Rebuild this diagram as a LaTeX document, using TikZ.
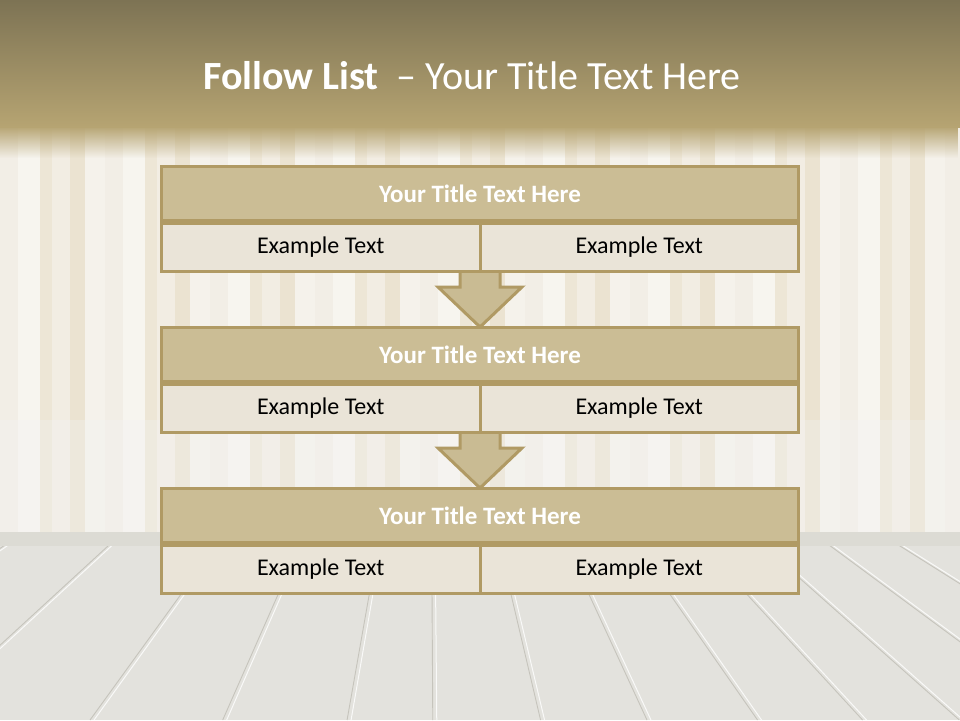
\documentclass[tikz,border=0pt]{standalone}
\usepackage{fontspec}
\setmainfont{Carlito}
\usetikzlibrary{fadings,calc}
\definecolor{gold}{HTML}{B09A64}
\definecolor{titlefill}{HTML}{CBBD95}
\definecolor{cellfill}{HTML}{EAE4D8}
\definecolor{arrowfill}{HTML}{C9BB93}
\definecolor{wallbase}{HTML}{F2EEE4}
\definecolor{bandtop}{HTML}{7D7354}
\definecolor{bandbot}{HTML}{B6A472}
\definecolor{floorc}{HTML}{E3E2DD}
\definecolor{groove}{HTML}{C6C4BC}
\definecolor{basebd}{HTML}{DCDBD4}
\definecolor{sA}{HTML}{F2EEE6}
\definecolor{sB}{HTML}{F7F5EF}
\definecolor{sC}{HTML}{EDE6D6}
\definecolor{sD}{HTML}{F2EDE3}
\definecolor{sE}{HTML}{EBE3D1}
\definecolor{sF}{HTML}{F5F2EB}
\tikzset{
  boxtitle/.style={draw=gold, line width=3pt, fill=titlefill, minimum width=637pt, minimum height=54pt, inner sep=0pt, text=white, font=\fontsize{25}{30}\selectfont\bfseries},
  boxcell/.style={draw=gold, line width=3pt, fill=cellfill, minimum width=318.5pt, minimum height=48pt, inner sep=0pt, text=black, font=\fontsize{24}{29}\selectfont},
  flowarrow/.style={draw=gold, line width=3pt, fill=arrowfill, line join=miter},
  mainttl/.style={text=white, inner sep=0pt, font=\fontsize{40}{48}\selectfont}
}
\begin{document}
\begin{tikzpicture}[x=1pt,y=-1pt]
\useasboundingbox (0,0) rectangle (960,720);
% ---------- background ----------
\fill[wallbase] (0,0) rectangle (960,720);
\foreach \p in {0,105,...,945}{
  \fill[sA] (\p,120) rectangle ++(18,420);
  \fill[sB] (\p+18,120) rectangle ++(22,420);
  \fill[sC] (\p+40,120) rectangle ++(12,420);
  \fill[sD] (\p+52,120) rectangle ++(18,420);
  \fill[sE] (\p+70,120) rectangle ++(15,420);
  \fill[sF] (\p+85,120) rectangle ++(20,420);
}
% soften lower wall
\fill[white!90!gray, opacity=0.35] (0,420) rectangle (960,533);
% baseboard
\fill[basebd] (0,532) rectangle (960,546);
% floor
\fill[floorc] (0,546) rectangle (960,720);
\begin{scope}
  \clip (0,546) rectangle (960,720);
  \coordinate (vp) at (430,250);
  \foreach \xa in {-200,-60,60,184,280,370,432,510,587,667,743,813,890,970,1060}{
    \pgfmathsetmacro{\xe}{430+(\xa-430)*1.382}
    \draw[groove, line width=0.9pt] (vp) -- (\xe,720);
    \draw[white, line width=1pt, opacity=0.8] ($(vp)+(2.5,0)$) -- (\xe+4,720);
  }
\end{scope}
% top band
\shade[top color=bandtop, bottom color=bandbot] (0,0) rectangle (960,127);
\fill[bandbot, path fading=south] (0,126) rectangle (960,158);
% ---------- title ----------
\node[mainttl] (title) at (472,76) {{\bfseries Follow List}\ \ – Your Title Text Here};
% ---------- arrows ----------
\foreach \i in {0,1}{
  \pgfmathsetmacro{\B}{271+161*\i}
  \pgfmathsetmacro{\N}{326+161*(\i)}
  \draw[flowarrow] (460,\B-2) -- (460,\B+16) -- (438,\B+16) -- (480,\N+1) -- (522,\B+16) -- (500,\B+16) -- (500,\B-2) -- cycle;
}
% ---------- boxes ----------
\foreach \i in {0,1,2}{
  \pgfmathsetmacro{\T}{165+161*\i}
  \node[boxtitle] (t\i) at (480,\T+1.5+27) {Your Title Text Here};
  \node[boxcell, anchor=north west] (l\i) at ($(t\i.south west)$) {Example Text};
  \node[boxcell, anchor=north east] (r\i) at ($(t\i.south east)$) {Example Text};
}
\end{tikzpicture}
\end{document}
